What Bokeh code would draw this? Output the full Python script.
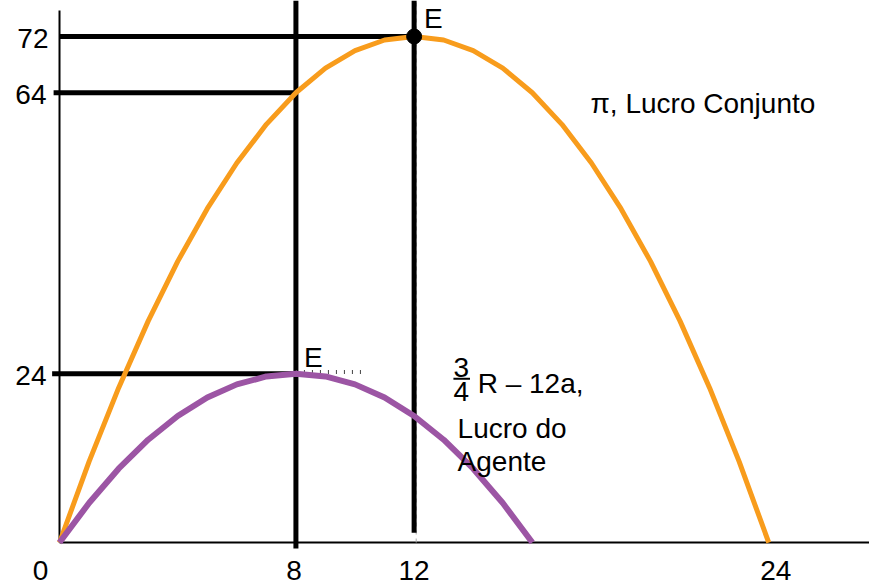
from bokeh.plotting import figure
from bokeh.models import Range1d
from bokeh.embed import file_html
from bokeh.resources import INLINE
from bokeh.core.properties import value

# Effort level a (x) and profits (y)
a_joint = list(range(0, 25))
joint_profit = [0, 11.5, 22, 31.5, 40, 47.5, 54, 59.5, 64, 67.5, 70, 71.5, 72,
                71.5, 70, 67.5, 64, 59.5, 54, 47.5, 40, 31.5, 22, 11.5, 0]
a_agent = list(range(0, 17))
agent_profit = [0, 5.625, 10.5, 14.625, 18, 20.625, 22.5, 23.625, 24, 23.625,
                22.5, 20.625, 18, 14.625, 10.5, 5.625, 0]

x_ticks = [0, 8, 12, 24]
x_tick_labels = ["0", "8", "12", "24"]
y_ticks = [72, 64, 24]
y_tick_labels = ["72", "64", "24"]

a_joint_opt, joint_max = 12, 72
a_agent_opt, agent_max = 8, 24

FONT = value("Liberation Sans")
FS = "28px"
ORANGE = "#F89C1C"
PURPLE = "#9C55A4"

X0, X1 = -1.997, 27.41
Y0, Y1 = -6.40, 77.12

p = figure(width=869, height=587, output_backend="svg", toolbar_location=None,
           x_range=Range1d(X0, X1), y_range=Range1d(Y0, Y1), min_border=0)
p.axis.visible = False
p.grid.visible = False
p.outline_line_color = None
p.background_fill_color = "white"

# axes
p.line([0, X1], [0, 0], line_color="black", line_width=2)
p.line([0, 0], [0, 75.7], line_color="black", line_width=2)

# faint dashed guide at 12
p.line([a_joint_opt + 0.07, a_joint_opt + 0.07], [0, Y1], line_color="#aaaaaa",
       line_width=1, line_dash="4 4")

# thick black guide lines
p.line([a_agent_opt, a_agent_opt], [-0.85, Y1], line_color="black", line_width=5)
p.line([a_joint_opt, a_joint_opt], [1.4, Y1], line_color="black", line_width=5)
p.line([0, a_joint_opt], [joint_max, joint_max], line_color="black", line_width=5)
p.line([-0.2, a_agent_opt], [64, 64], line_color="black", line_width=5)
p.line([-0.25, a_agent_opt], [agent_max, agent_max], line_color="black", line_width=5)

# small dotted ticks near agent optimum
p.line([a_agent_opt, 10.2], [agent_max + 0.25, agent_max + 0.25], line_color="#444444",
       line_width=4, line_dash="1 7")

# curves
p.line(a_joint, joint_profit, line_color=ORANGE, line_width=5, line_join="round")
p.line(a_agent, agent_profit, line_color=PURPLE, line_width=6, line_join="round")

# equilibrium point
p.scatter([a_joint_opt], [joint_max], size=15, color="black")

# tick labels
x_off = [-19, -2, 0, 7]
x_yoff = [28, 28, 28, 28]
for t, lab, xo, yo in zip(x_ticks, x_tick_labels, x_off, x_yoff):
    p.text([t], [0], text=[lab], text_align="center", text_baseline="middle",
           x_offset=xo, y_offset=yo, text_font=FONT, text_font_size=FS, text_color="black")
y_off_x = [-11, -13, -13]
for t, lab, xo in zip(y_ticks, y_tick_labels, y_off_x):
    p.text([0], [t], text=[lab], text_align="right", text_baseline="middle",
           x_offset=xo, y_offset=2, text_font=FONT, text_font_size=FS, text_color="black")

# E labels
p.text([a_joint_opt], [joint_max], text=["E"], text_align="left", text_baseline="middle",
       x_offset=10, y_offset=-18, text_font=FONT, text_font_size=FS)
p.text([a_agent_opt], [agent_max], text=["E"], text_align="left", text_baseline="middle",
       x_offset=8, y_offset=-16, text_font=FONT, text_font_size=FS)

# curve labels
p.text([17.97], [62.5], text=["π, Lucro Conjunto"], text_align="left",
       text_baseline="middle", text_font=FONT, text_font_size=FS)
p.text([13.6], [24.9], text=["3"], text_align="center", text_baseline="middle",
       text_font=FONT, text_font_size=FS)
p.text([13.6], [21.5], text=["4"], text_align="center", text_baseline="middle",
       text_font=FONT, text_font_size=FS)
p.line([13.33, 13.89], [23.3, 23.3], line_color="black", line_width=2)
p.text([14.15], [22.6], text=["R – 12a,"], text_align="left", text_baseline="middle",
       text_font=FONT, text_font_size=FS)
p.text([13.47], [16.2], text=["Lucro do"], text_align="left", text_baseline="middle",
       text_font=FONT, text_font_size=FS)
p.text([13.47], [11.5], text=["Agente"], text_align="left", text_baseline="middle",
       text_font=FONT, text_font_size=FS)

open("out.html", "w").write(file_html(p, INLINE))
